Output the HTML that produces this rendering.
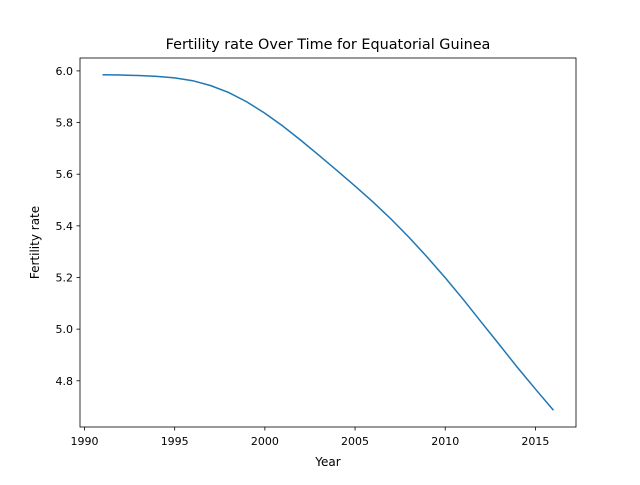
<!DOCTYPE html>
<html><head><meta charset="utf-8"><style>
body{margin:0;background:#fff;font-family:"Liberation Sans","DejaVu Sans",sans-serif;}
svg text{font-family:"DejaVu Sans","Liberation Sans",sans-serif;fill:#000;}
</style></head><body>
<svg id="chart" width="640" height="480" xmlns="http://www.w3.org/2000/svg">
<rect width="640" height="480" fill="#fff"/>
<text x="328" y="49" font-size="14.4" text-anchor="middle">Fertility rate Over Time for Equatorial Guinea</text>
<g id="ticks"></g>
<path id="line" fill="none" stroke="#1f77b4" stroke-width="1.5"/>
<rect x="80" y="58" width="496" height="369" fill="none" stroke="#000" stroke-width="0.8"/>
<text x="328" y="466" font-size="12" text-anchor="middle">Year</text>
<text transform="translate(39,242.5) rotate(-90)" font-size="12" text-anchor="middle">Fertility rate</text>
</svg>
<script>
const years=[1991,1992,1993,1994,1995,1996,1997,1998,1999,2000,2001,2002,2003,2004,2005,2006,2007,2008,2009,2010,2011,2012,2013,2014,2015,2016];
const rates=[5.985,5.984,5.982,5.979,5.973,5.962,5.943,5.916,5.880,5.836,5.786,5.731,5.673,5.614,5.554,5.492,5.426,5.355,5.279,5.199,5.115,5.027,4.940,4.852,4.768,4.686];
const xTicks=[1990,1995,2000,2005,2010,2015];
const yTicks=[4.8,5.0,5.2,5.4,5.6,5.8,6.0];
const L=80,R=576,T=58,B=427;
const xmin=Math.min(...years),xmax=Math.max(...years),xm=(xmax-xmin)*0.05;
const ymin=Math.min(...rates),ymax=Math.max(...rates),ym=(ymax-ymin)*0.05;
const sx=v=>L+(v-(xmin-xm))/((xmax+xm)-(xmin-xm))*(R-L);
const sy=v=>B-(v-(ymin-ym))/((ymax+ym)-(ymin-ym))*(B-T);
const NS="http://www.w3.org/2000/svg";
const g=document.getElementById('ticks');
function mk(tag,attrs){const e=document.createElementNS(NS,tag);for(const k in attrs)e.setAttribute(k,attrs[k]);g.appendChild(e);return e;}
xTicks.forEach(t=>{const x=sx(t);
const l=mk('line',{x1:x,x2:x,y1:B,y2:B+3.5,stroke:'#000','stroke-width':0.8});


const tx=mk('text',{x:x,y:B+18,'font-size':11,'text-anchor':'middle'});tx.textContent=t;

});
yTicks.forEach(t=>{const y=sy(t);
const l=mk('line',{x1:L-3.5,x2:L,y1:y,y2:y,stroke:'#000','stroke-width':0.8});


const tx=mk('text',{x:L-7,y:y+4,'font-size':11,'text-anchor':'end'});tx.textContent=t.toFixed(1);

});
document.getElementById('line').setAttribute('d',years.map((y,i)=>(i?'L':'M')+sx(y).toFixed(2)+','+sy(rates[i]).toFixed(2)).join(''));
</script>
</body></html>
